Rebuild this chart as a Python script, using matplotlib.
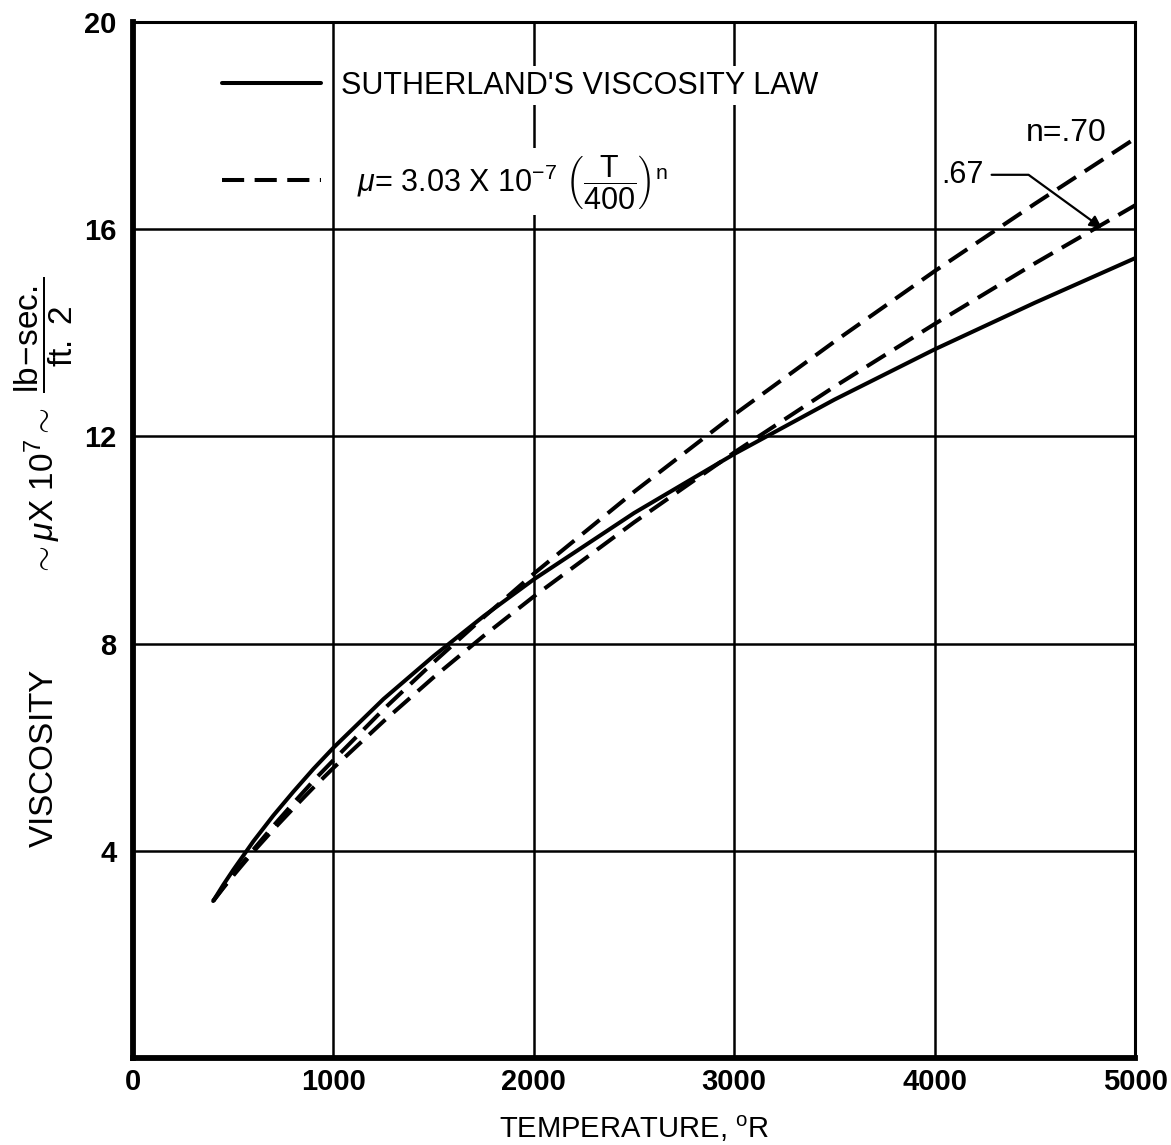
import matplotlib
matplotlib.use("Agg")
import matplotlib.pyplot as plt

# temperature, deg R
temps = [400, 450, 500, 600, 700, 800, 900, 1000, 1250, 1500, 1750, 2000,
         2500, 3000, 3500, 4000, 4500, 5000]
# viscosity x 10^7 (lb-sec/ft^2)
sutherland = [3.03, 3.34, 3.63, 4.18, 4.68, 5.14, 5.58, 5.99, 6.93, 7.76, 8.53, 9.24,
              10.52, 11.66, 12.71, 13.68, 14.58, 15.44]
power_070 = [3.03, 3.29, 3.54, 4.02, 4.48, 4.92, 5.35, 5.75, 6.73, 7.64, 8.51, 9.35,
             10.93, 12.42, 13.83, 15.19, 16.49, 17.75]
power_067 = [3.03, 3.28, 3.52, 3.98, 4.41, 4.82, 5.22, 5.60, 6.50, 7.35, 8.15, 8.91,
             10.34, 11.69, 12.96, 14.17, 15.34, 16.46]

x_ticks = [0, 1000, 2000, 3000, 4000, 5000]
y_ticks = [4, 8, 12, 16, 20]

plt.rcParams['font.family'] = ['Liberation Sans', 'DejaVu Sans']
plt.rcParams['mathtext.fontset'] = 'custom'
plt.rcParams['mathtext.rm'] = 'Liberation Sans'
plt.rcParams['mathtext.it'] = 'Liberation Sans:italic'
plt.rcParams['mathtext.bf'] = 'Liberation Sans:bold'

fig = plt.figure(figsize=(11.71, 11.45), dpi=100)
ax = fig.add_axes([0.1136, 0.0760, 0.8557, 0.9048])

dash = (5.5, 2.6)
ax.plot(temps, sutherland, color='black', lw=2.9, solid_capstyle='round',
        label="SUTHERLAND'S VISCOSITY LAW")
ax.plot(temps, power_070, color='black', lw=2.9, dashes=dash,
        label=r'$\ \ \mu$= 3.03 X 10$^{-7}$ $\left(\dfrac{\mathrm{T}}{400}\right)^{\mathrm{n}}$')
ax.plot(temps, power_067, color='black', lw=2.9, dashes=dash)

ax.set_xlim(0, 5000)
ax.set_ylim(0, 20)
ax.set_xticks(x_ticks)
ax.set_yticks(y_ticks)
ax.set_xticklabels([str(t) for t in x_ticks], fontsize=21, fontweight='bold')
ax.set_yticklabels([str(t) for t in y_ticks], fontsize=21, fontweight='bold')
ax.tick_params(axis='x', length=0, pad=7)
ax.tick_params(axis='y', length=0, pad=12)
ax.grid(True, color='black', lw=1.8)
ax.set_axisbelow(True)

for side in ['left', 'bottom']:
    ax.spines[side].set_linewidth(4.2)
for side in ['top', 'right']:
    ax.spines[side].set_linewidth(2.2)

ax.set_xlabel('TEMPERATURE, $^{\\mathrm{o}}$R', fontsize=21, labelpad=13)
ax.set_ylabel('VISCOSITY' + ' ' * 10
              + r'$\sim\mu$X 10$^7$$\sim$ $\dfrac{\mathrm{lb\!-\!sec.}}{\mathrm{ft.\ 2}}$',
              fontsize=24)
ax.yaxis.set_label_coords(-0.058, 0.478)

leg = ax.legend(loc='upper left', bbox_to_anchor=(0.0888, 0.953), frameon=False,
                fontsize=22, handlelength=3.25, handletextpad=0.65, labelspacing=1.7,
                borderpad=0, borderaxespad=0)
for t in leg.get_texts():
    t.set_bbox(dict(facecolor='white', edgecolor='none', pad=3))

ax.text(4656, 17.86, 'n=.70', fontsize=23, ha='center', va='center')
ax.annotate('.67', xy=(4835, 16.02), xytext=(4137, 17.05), fontsize=22,
            ha='center', va='center',
            arrowprops=dict(arrowstyle='-|>', color='black', lw=1.6, mutation_scale=18,
                            connectionstyle='angle,angleA=0,angleB=-36,rad=0',
                            shrinkA=4, shrinkB=0))

fig.savefig('out.png', dpi=100)
